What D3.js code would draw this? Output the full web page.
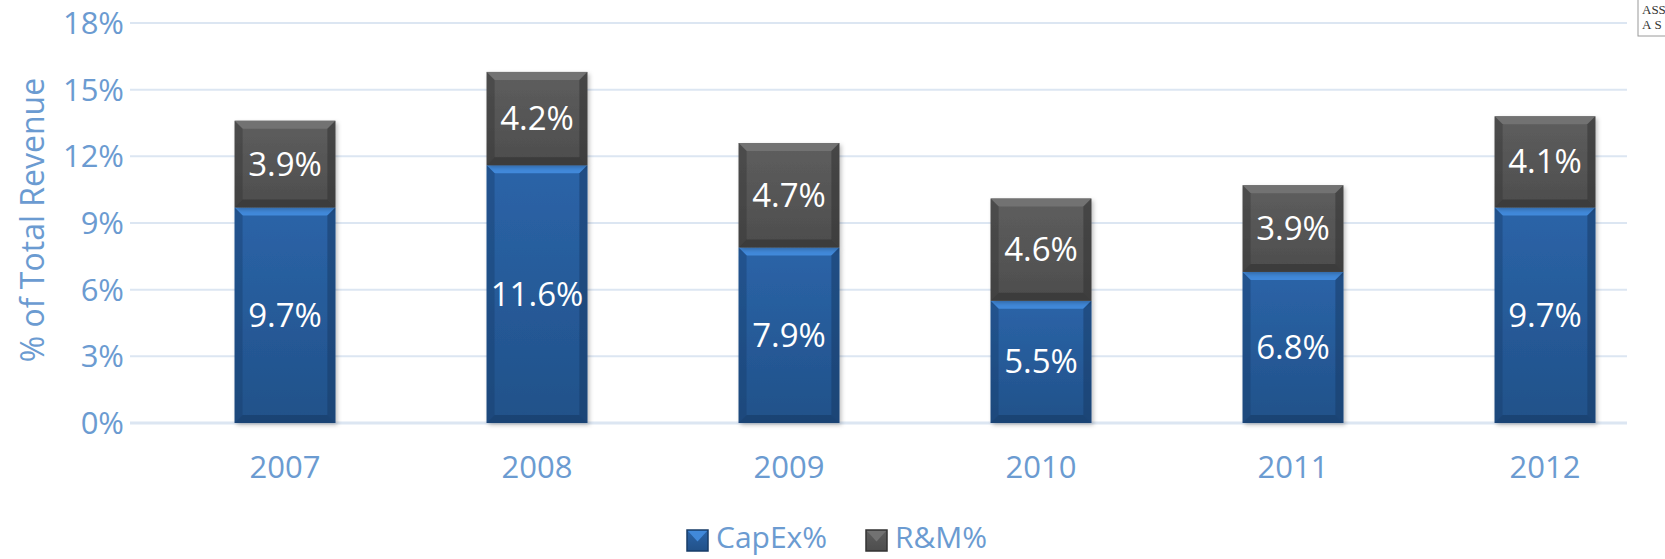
<!DOCTYPE html>
<html>
<head>
<meta charset="utf-8">
<script src="https://cdn.jsdelivr.net/npm/d3@7"></script>
<style>
  body { margin: 0; background: #fff; }
  text { font-family: "Open Sans", sans-serif; }
</style>
</head>
<body>
<svg id="chart" width="1665" height="559"></svg>
<script>
var years = ["2007", "2008", "2009", "2010", "2011", "2012"];
var capex = [9.7, 11.6, 7.9, 5.5, 6.8, 9.7];
var rm = [3.9, 4.2, 4.7, 4.6, 3.9, 4.1];
var yTicks = [0, 3, 6, 9, 12, 15, 18];
var seriesNames = ["CapEx%", "R&M%"];

var axisColor = "#6b9bd1";
var svg = d3.select("#chart");

var x = d3.scaleBand().domain(years).range([159, 1671]).paddingInner(0.6).paddingOuter(0.3);
var y = d3.scaleLinear().domain([0, 18]).range([423, 23]);

var defs = svg.append("defs");
function grad(id, top, bottom) {
    var g = defs.append("linearGradient").attr("id", id).attr("x1", 0).attr("y1", 0).attr("x2", 0).attr("y2", 1);
    g.append("stop").attr("offset", "0%").attr("stop-color", top);
    g.append("stop").attr("offset", "100%").attr("stop-color", bottom);
}
grad("gBlue", "#2b64a8", "#215189");
grad("gGray", "#5e5e5e", "#4d4d4d");
var shadow = defs.append("filter").attr("id", "shadow").attr("x", "-10%").attr("y", "-10%").attr("width", "130%").attr("height", "130%");
shadow.append("feDropShadow").attr("dx", 2).attr("dy", 2).attr("stdDeviation", 2).attr("flood-color", "#000").attr("flood-opacity", 0.25);

// gridlines
svg.append("g").selectAll("line").data(yTicks).enter().append("line")
    .attr("x1", 130).attr("x2", 1627)
    .attr("y1", function(d) { return y(d); }).attr("y2", function(d) { return y(d); })
    .attr("stroke", "#dce6f2")
    .attr("stroke-width", function(d) { return d == 0 ? 3 : 2; });

// y tick labels
svg.append("g").selectAll("text").data(yTicks).enter().append("text")
    .attr("x", 124).attr("y", function(d) { return y(d); })
    .attr("dy", "0.35em").attr("text-anchor", "end")
    .attr("fill", axisColor).attr("font-size", 31)
    .text(function(d) { return d + "%"; });

// y axis title
svg.append("text")
    .attr("transform", "translate(33,220) rotate(-90)")
    .attr("dy", "0.35em").attr("text-anchor", "middle")
    .attr("fill", axisColor).attr("font-size", 32)
    .text("% of Total Revenue");

// x labels
svg.append("g").selectAll("text").data(years).enter().append("text")
    .attr("x", function(d) { return x(d) + x.bandwidth() / 2; })
    .attr("y", 467).attr("dy", "0.35em").attr("text-anchor", "middle")
    .attr("fill", axisColor).attr("font-size", 31)
    .text(function(d) { return d; });

// bevelled segment
var bev = 8;
function segment(g, x0, w, yTop, yBot, fillId, light, dark) {
    g.append("rect").attr("x", x0).attr("y", yTop).attr("width", w).attr("height", yBot - yTop)
        .attr("fill", "url(#" + fillId + ")").attr("filter", "url(#shadow)");
    var x1 = x0 + w;
    g.append("polygon").attr("points", [[x0, yTop], [x1, yTop], [x1 - bev, yTop + bev], [x0 + bev, yTop + bev]].join(" "))
        .attr("fill", light);
    g.append("polygon").attr("points", [[x0, yTop], [x0 + bev, yTop + bev], [x0 + bev, yBot - bev], [x0, yBot]].join(" "))
        .attr("fill", dark).attr("opacity", 0.4);
    g.append("polygon").attr("points", [[x1, yTop], [x1 - bev, yTop + bev], [x1 - bev, yBot - bev], [x1, yBot]].join(" "))
        .attr("fill", dark).attr("opacity", 0.55);
    g.append("polygon").attr("points", [[x0, yBot], [x0 + bev, yBot - bev], [x1 - bev, yBot - bev], [x1, yBot]].join(" "))
        .attr("fill", dark).attr("opacity", 0.65);
}

var bars = svg.append("g");
years.forEach(function(yr, i) {
    var g = bars.append("g");
    var bx = x(yr), bw = x.bandwidth();
    segment(g, bx, bw, y(capex[i]), y(0), "gBlue", "#4189da", "#173c68");
    segment(g, bx, bw, y(capex[i] + rm[i]), y(capex[i]), "gGray", "#727272", "#333333");
    g.append("text").attr("x", bx + bw / 2).attr("y", (y(capex[i]) + y(0)) / 2)
        .attr("dy", "0.35em").attr("text-anchor", "middle").attr("fill", "#fff").attr("font-size", 33)
        .text(capex[i].toFixed(1) + "%");
    g.append("text").attr("x", bx + bw / 2).attr("y", (y(capex[i] + rm[i]) + y(capex[i])) / 2)
        .attr("dy", "0.35em").attr("text-anchor", "middle").attr("fill", "#fff").attr("font-size", 33)
        .text(rm[i].toFixed(1) + "%");
});

// legend
var legend = svg.append("g");
var legendX = [687, 866];
var legendFill = [["gBlue", "#4189da", "#173c68"], ["gGray", "#727272", "#333333"]];
seriesNames.forEach(function(name, i) {
    var lg = legend.append("g");
    var lx = legendX[i], ly = 530, s = 21;
    lg.append("rect").attr("x", lx).attr("y", ly).attr("width", s).attr("height", s)
        .attr("fill", "url(#" + legendFill[i][0] + ")");
    lg.append("polygon").attr("points", [[lx, ly], [lx + s, ly], [lx + s / 2, ly + s * 0.55]].join(" "))
        .attr("fill", legendFill[i][1]);
    lg.append("rect").attr("x", lx).attr("y", ly).attr("width", s).attr("height", s)
        .attr("fill", "none").attr("stroke", legendFill[i][2]).attr("stroke-width", 1.5);
    lg.append("text").attr("x", lx + s + 8).attr("y", 537).attr("dy", "0.35em")
        .attr("fill", axisColor).attr("font-size", 30).text(name);
});

// cropped logo box top-right
var logo = svg.append("g");
logo.append("rect").attr("x", 1638).attr("y", -2).attr("width", 40).attr("height", 38)
    .attr("fill", "#fff").attr("stroke", "#9a9a9a").attr("stroke-width", 1);
logo.append("text").attr("x", 1642).attr("y", 14).attr("font-size", 13).attr("fill", "#333")
    .style("font-family", "Liberation Serif, serif").text("ASS");
logo.append("text").attr("x", 1642).attr("y", 29).attr("font-size", 13).attr("fill", "#333")
    .style("font-family", "Liberation Serif, serif").attr("letter-spacing", 3).text("AS");
</script>
</body>
</html>
